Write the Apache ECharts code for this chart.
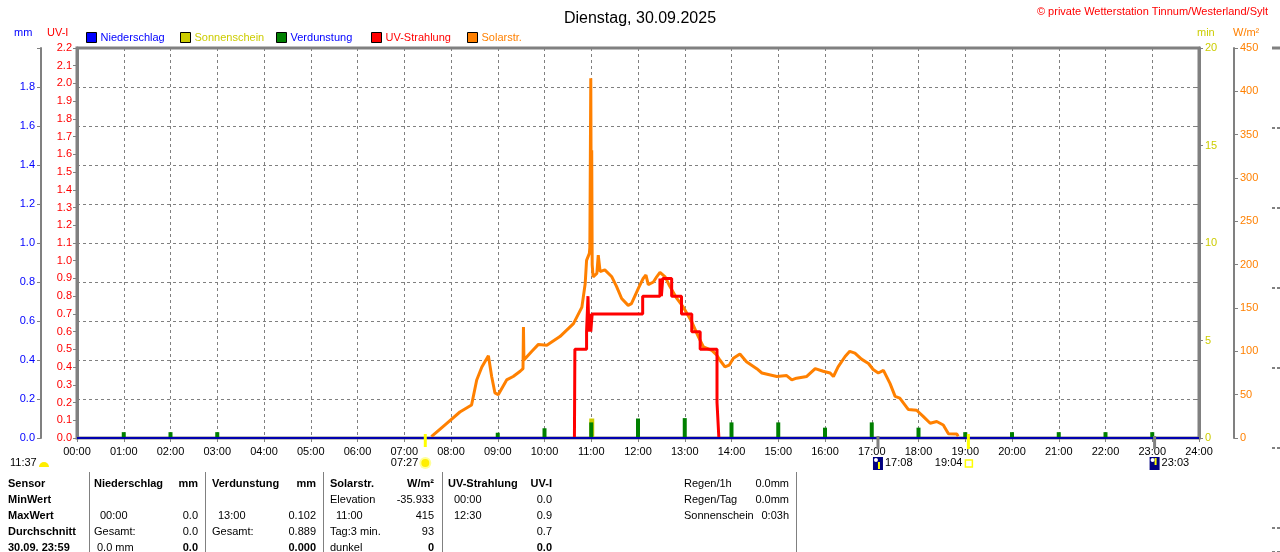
<!DOCTYPE html>
<html lang="de">
<head>
    <meta charset="UTF-8">
    <title>Dienstag, 30.09.2025</title>
    <script src="https://cdn.jsdelivr.net/npm/echarts@6.0.0/dist/echarts.min.js"></script>
    <style>
        body { margin: 0; padding: 0; background: #fff; }
        #chart { width: 1280px; height: 552px; }
    </style>
</head>
<body>
<div id="chart"></div>
<script>
    // Solarstrahlung W/m² (Uhrzeit in Stunden)
    const solarTime = [7.58, 7.91, 8.19, 8.44, 8.55, 8.66, 8.80, 8.87, 8.94, 9.01, 9.19, 9.33, 9.48, 9.54, 9.55, 9.56,
        9.73, 9.87, 10.05, 10.33, 10.62, 10.80, 10.87, 10.90, 10.96, 10.97, 10.99, 11.00, 11.01, 11.02, 11.04, 11.08,
        11.12, 11.15, 11.19, 11.29, 11.44, 11.54, 11.65, 11.79, 11.86, 12.01, 12.11, 12.17, 12.22, 12.33, 12.40, 12.47,
        12.58, 12.68, 12.83, 12.97, 13.15, 13.29, 13.40, 13.58, 13.68, 13.75, 13.86, 13.95, 14.04, 14.18, 14.32, 14.54,
        14.65, 14.97, 15.18, 15.29, 15.39, 15.61, 15.79, 15.96, 16.11, 16.18, 16.28, 16.43, 16.53, 16.64, 16.78, 16.93,
        17.03, 17.14, 17.25, 17.39, 17.50, 17.60, 17.78, 17.96, 18.10, 18.25, 18.39, 18.53, 18.64, 18.82, 18.85];
    const solarValue = [1.5, 17, 30, 38, 67, 82, 95, 71, 52, 50, 67, 71, 77, 80, 128, 90,
        100, 108, 107, 117, 132, 151, 178, 205, 213, 220, 415, 250, 332, 200, 186, 185,
        190, 211, 192, 194, 186, 175, 161, 153, 155, 173, 184, 188, 177, 180, 186, 191,
        186, 175, 161, 151, 134, 117, 105, 101, 96, 90, 82, 84, 92, 97, 88, 80,
        75, 71, 72, 67, 69, 71, 80, 77, 75, 71, 82, 94, 100, 98, 91, 86,
        79, 75, 78, 63, 48, 46, 33, 32, 25, 17, 19, 15, 5, 4.5, 2];

    // UV-Index (Stufen)
    const uvTime = [10.64, 10.65, 10.90, 10.93, 10.95, 10.97, 10.99, 11.02, 12.10, 12.47, 12.50, 12.53, 12.72, 12.93, 13.15, 13.33, 13.69, 13.73];
    const uvValue = [0, 0.5, 0.6, 0.8, 0.6, 0.7, 0.6, 0.7, 0.8, 0.9, 0.8, 0.9, 0.8, 0.7, 0.6, 0.5, 0.2, 0];

    // Verdunstung mm je Stunde
    const evHours = [1, 2, 3, 9, 10, 11, 12, 13, 14, 15, 16, 17, 18, 19, 20, 21, 22, 23];
    const evValues = [0.03, 0.03, 0.03, 0.027, 0.05, 0.08, 0.10, 0.102, 0.08, 0.08, 0.053, 0.08, 0.053, 0.03, 0.03, 0.03, 0.03, 0.03];

    // Sonnenschein min
    const sunHours = [11];
    const sunValues = [1];

    // Niederschlag mm
    const rainTime = [0, 24];
    const rainValue = [0, 0];

    // Astro-Zeiten
    const sunrise = ['07:27', 7.45];
    const sunset = ['19:04', 19.067];
    const moonrise = ['17:08', 17.133];
    const moonset = ['23:03', 23.05];
    const dayLength = '11:37';

    // Tabelle unten
    const tableRows = ['Sensor', 'MinWert', 'MaxWert', 'Durchschnitt', '30.09. 23:59'];
    const colNiederschlag = [['Niederschlag', 'mm'], ['', ''], ['  00:00', '0.0'], ['Gesamt:', '0.0'], [' 0.0 mm', '0.0']];
    const colVerdunstung = [['Verdunstung', 'mm'], ['', ''], ['  13:00', '0.102'], ['Gesamt:', '0.889'], ['', '0.000']];
    const colSolar = [['Solarstr.', 'W/m²'], ['Elevation', '-35.933'], ['  11:00', '415'], ['Tag:3 min.', '93'], ['dunkel', '0']];
    const colUV = [['UV-Strahlung', 'UV-I'], ['  00:00', '0.0'], ['  12:30', '0.9'], ['', '0.7'], ['', '0.0']];
    const summaryLabels = ['Regen/1h', 'Regen/Tag', 'Sonnenschein'];
    const summaryValues = ['0.0mm', '0.0mm', '0:03h'];

    const font = 'Liberation Sans, Arial, sans-serif';
    const gray = '#808080';
    const C = { rain: '#0000ff', sun: '#cccc00', evap: '#008000', uv: '#ff0000', solar: '#ff8000' };

    const zip = (a, b) => a.map((v, i) => [v, b[i]]);
    const hh = v => (v < 10 ? '0' : '') + v + ':00';

    const legendDefs = [
        { name: 'Niederschlag', left: 86, color: C.rain },
        { name: 'Sonnenschein', left: 180, color: C.sun },
        { name: 'Verdunstung', left: 276, color: '#0000ff' },
        { name: 'UV-Strahlung', left: 371, color: C.uv },
        { name: 'Solarstr.', left: 467, color: C.solar }
    ];

    const chart = echarts.init(document.getElementById('chart'));

    const option = {
        animation: false,
        backgroundColor: '#fff',
        textStyle: { fontFamily: font },
        title: {
            text: 'Dienstag, 30.09.2025', left: 'center', top: 6,
            textStyle: { fontSize: 16, fontWeight: 'normal', color: '#000', fontFamily: font }
        },
        legend: legendDefs.map(l => ({
            data: [l.name], left: l.left, top: 32, icon: 'rect', itemWidth: 10, itemHeight: 10, itemGap: 4,
            padding: 0, selectedMode: false,
            itemStyle: { borderColor: '#000', borderWidth: 1 },
            textStyle: { color: l.color, fontSize: 11, fontFamily: font, padding: [0, 0, 0, -1] }
        })),
        grid: [
            { left: 77, right: 81, top: 48, bottom: 114, show: true, borderColor: gray, borderWidth: 3, outerBoundsMode: 'none' },
            { left: 1200, right: 0, top: 48, bottom: 0, outerBoundsMode: 'none' }
        ],
        xAxis: [
            {
                type: 'value', min: 0, max: 24, interval: 1,
                axisLine: { show: false, onZero: false },
                axisTick: { length: 4, lineStyle: { color: gray } },
                axisLabel: { formatter: hh, color: '#000', fontSize: 11, margin: 8, fontFamily: font },
                splitLine: { show: true, lineStyle: { color: gray, type: [3, 3] } }
            },
            { gridIndex: 1, type: 'value', min: 0, max: 1, show: false, axisLine: { onZero: false } }
        ],
        yAxis: [
            {   // mm
                type: 'value', position: 'left', offset: 36, min: 0, max: 2, interval: 0.2,
                axisLine: { show: true, onZero: false, lineStyle: { color: gray, width: 2 } },
                axisTick: { show: true, length: 4, lineStyle: { color: gray } },
                axisLabel: { color: '#0000ff', fontSize: 11, margin: 6, fontFamily: font,
                    formatter: v => v >= 2 ? '' : v.toFixed(1) },
                splitLine: { show: true, lineStyle: { color: gray, type: [3, 3] } }
            },
            {   // UV-I
                type: 'value', position: 'left', offset: 0, min: 0, max: 2.2, interval: 0.1,
                axisLine: { show: true, onZero: false, lineStyle: { color: gray, width: 3 } },
                axisTick: { show: true, length: 4, lineStyle: { color: gray } },
                axisLabel: { color: '#ff0000', fontSize: 11, margin: 5, fontFamily: font, formatter: v => v.toFixed(1) },
                splitLine: { show: false }
            },
            {   // min
                type: 'value', position: 'right', offset: 0, min: 0, max: 20, interval: 5,
                axisLine: { show: true, onZero: false, lineStyle: { color: gray, width: 3 } },
                axisTick: { show: true, length: 4, lineStyle: { color: gray } },
                axisLabel: { color: C.sun, fontSize: 11, margin: 6, fontFamily: font },
                splitLine: { show: false }
            },
            {   // kleine Striche rechts im Raster
                type: 'value', position: 'right', offset: 0, min: 0, max: 2, interval: 0.2,
                axisLine: { show: false, onZero: false },
                axisTick: { show: true, inside: true, length: 4, lineStyle: { color: gray } },
                axisLabel: { show: false },
                splitLine: { show: false }
            },
            {   // W/m²
                type: 'value', position: 'right', offset: 35, min: 0, max: 450, interval: 50,
                axisLine: { show: true, onZero: false, lineStyle: { color: gray, width: 2 } },
                axisTick: { show: true, length: 4, lineStyle: { color: gray } },
                axisLabel: { color: C.solar, fontSize: 11, margin: 6, fontFamily: font },
                splitLine: { show: false }
            },
            {   // abgeschnittene Achse am rechten Rand
                gridIndex: 1, type: 'value', position: 'right', min: 0, max: 504, interval: 80, inverse: true,
                axisLine: { show: false, onZero: false },
                axisTick: { show: true, inside: true, length: 8, lineStyle: { color: gray, width: 2, type: [3, 2] } },
                axisLabel: { show: false },
                splitLine: { show: false }
            }
        ],
        series: [
            {
                name: 'Solarstr.', type: 'line', yAxisIndex: 4, data: zip(solarTime, solarValue),
                showSymbol: false, lineStyle: { color: C.solar, width: 3 }, itemStyle: { color: C.solar }, z: 3
            },
            {
                name: 'Sonnenschein', type: 'bar', yAxisIndex: 2, data: zip(sunHours, sunValues),
                barWidth: 5, barGap: '-100%', itemStyle: { color: C.sun }, z: 2
            },
            {
                name: 'Verdunstung', type: 'bar', yAxisIndex: 0, data: zip(evHours, evValues),
                barWidth: 4, barGap: '-100%', itemStyle: { color: C.evap }, z: 4
            },
            {
                name: 'UV-Strahlung', type: 'line', yAxisIndex: 1, data: zip(uvTime, uvValue), step: 'end',
                showSymbol: false, lineStyle: { color: C.uv, width: 3 }, itemStyle: { color: C.uv }, z: 5
            },
            {
                name: 'Niederschlag', type: 'line', yAxisIndex: 0, data: zip(rainTime, rainValue),
                showSymbol: false, lineStyle: { color: '#0000b0', width: 2 }, itemStyle: { color: C.rain }, z: 6
            }
        ]
    };

    chart.setOption(option);

    // Texte, Tabelle und Astro-Markierungen
    const els = [];
    const txt = (text, x, y, color, opt) => {
        opt = opt || {};
        els.push({
            type: 'text', x: x, y: y, z: 100,
            style: {
                text: text, fill: color || '#000', font: (opt.bold ? 'bold ' : '') + (opt.size || 11) + 'px ' + font,
                textAlign: opt.align || 'left', textVerticalAlign: 'middle'
            }
        });
    };
    const line = (x1, y1, x2, y2, color, w) => {
        els.push({ type: 'line', z: 100, shape: { x1: x1, y1: y1, x2: x2, y2: y2 }, style: { stroke: color, lineWidth: w || 1 } });
    };

    txt('© private Wetterstation Tinnum/Westerland/Sylt', 1268, 12, '#ff0000', { align: 'right' });
    txt('mm', 14, 33, '#0000ff');
    txt('UV-I', 47, 33, '#ff0000');
    txt('min', 1197, 33, C.sun);
    txt('W/m²', 1233, 33, C.solar);
    line(1272, 48, 1280, 48, gray, 3);

    const px = h => chart.convertToPixel({ xAxisIndex: 0 }, h);

    // Sonnenaufgang
    const xr = px(sunrise[1]);
    line(xr, 434, xr, 447, '#ffff00', 3);
    txt(sunrise[0], xr - 7, 463, '#000', { align: 'right' });
    els.push({ type: 'circle', z: 100, shape: { cx: xr, cy: 463, r: 6 }, style: { fill: '#ffff99' } });
    els.push({ type: 'circle', z: 101, shape: { cx: xr, cy: 463, r: 4 }, style: { fill: '#ffee00' } });
    // Sonnenuntergang
    const xs = px(sunset[1]);
    line(xs, 434, xs, 449, '#ffff00', 3);
    txt(sunset[0], xs - 6, 463, '#000', { align: 'right' });
    els.push({ type: 'rect', z: 100, shape: { x: xs - 3, y: 460, width: 7, height: 7 }, style: { fill: 'none', stroke: '#ffff00', lineWidth: 1.5 } });
    // Tageslänge
    txt(dayLength, 10, 463, '#000');
    els.push({ type: 'sector', z: 100, shape: { cx: 44, cy: 467, r: 5, startAngle: Math.PI, endAngle: 2 * Math.PI }, style: { fill: '#ffee00' } });
    // Mond
    [moonrise, moonset].forEach((m, i) => {
        const x = px(m[1]);
        line(x, 436, x, 449, gray, 3);
        els.push({ type: 'rect', z: 100, shape: { x: x - 5, y: 457, width: 10, height: 13 }, style: { fill: '#000080' } });
        els.push({ type: 'circle', z: 101, shape: { cx: x - 2, cy: 460, r: 2 }, style: { fill: '#ffffff' } });
        line(x + 1, i === 0 ? 469 : 458, x + 1, i === 0 ? 462 : 465, '#ffff00', 2);
        txt(m[0], x + 7, 463, '#000');
    });

    // Tabelle
    const rowY = [484, 500, 516, 532, 548];
    tableRows.forEach((r, i) => txt(r, 8, rowY[i], '#000', { bold: true }));
    const cols = [
        { data: colNiederschlag, x: 94, r: 198 },
        { data: colVerdunstung, x: 212, r: 316 },
        { data: colSolar, x: 330, r: 434 },
        { data: colUV, x: 448, r: 552 }
    ];
    cols.forEach(c => {
        c.data.forEach((cell, i) => {
            const head = i === 0, last = i === c.data.length - 1;
            if (cell[0]) txt(cell[0].replace(/^ +/, ''), c.x + (cell[0].match(/^ */)[0].length * 3), rowY[i], '#000', { bold: head });
            if (cell[1]) txt(cell[1], c.r, rowY[i], '#000', { bold: head || last, align: 'right' });
        });
    });
    summaryLabels.forEach((s, i) => {
        txt(s, 684, rowY[i], '#000');
        txt(summaryValues[i], 789, rowY[i], '#000', { align: 'right' });
    });
    [89, 205, 323, 442, 796].forEach(x => line(x + 0.5, 472, x + 0.5, 552, gray, 1));

    chart.setOption({ graphic: els });

    window.addEventListener('resize', function () {
        chart.resize();
    });
</script>
</body>
</html>
